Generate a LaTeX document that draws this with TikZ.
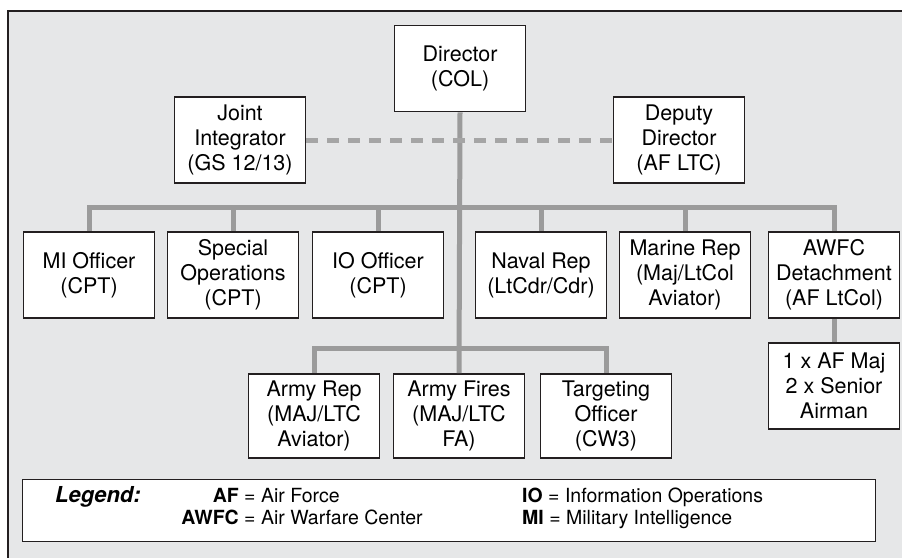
\documentclass[tikz,border=0pt]{standalone}
\usepackage{fontspec}
\setmainfont{TeX Gyre Heros}

\definecolor{Panel}{HTML}{E6E7E8}
\definecolor{Wire}{HTML}{9B9B9B}
\definecolor{Rim}{HTML}{231F20}
\tikzstyle{Unit} = [draw=Rim,
                    fill=white,
                    rectangle,
                    line width=1.6pt,
                    minimum width=131pt,
                    minimum height=86pt,
                    inner sep=0pt,
                    align=center,
                    font=\fontsize{21.5}{25}\selectfont]
\tikzstyle{Wires} = [draw=Wire, line width=5pt, line join=miter]
\tikzstyle{Liaison} = [draw=Wire!90, line width=5pt, dash pattern=on 12pt off 9pt]
\tikzstyle{Key} = [inner sep=0pt, font=\fontsize{19.5}{22}\selectfont]

\begin{document}
\begin{tikzpicture}[x=1pt, y=-1pt]

    \clip (0,0) rectangle (902,557);
    \draw [line width=2.2pt, draw=Rim, fill=Panel] (8,11) rectangle (930,590);

    % Headquarters nodes
    \node (dir) at (460,68.5) [Unit]{Director\\(COL)};
    \node (joint) at (240,140) [Unit]{Joint\\Integrator\\(GS 12/13)};
    \node (deputy) at (679,140) [Unit]{Deputy\\Director\\(AF LTC)};

    % First row
    \node (mi) at (89,275) [Unit]{MI Officer\\(CPT)};
    \node (specops) at (233,275) [Unit]{Special\\Operations\\(CPT)};
    \node (io) at (378,275) [Unit]{IO Officer\\(CPT)};
    \node (naval) at (541,275) [Unit]{Naval Rep\\(LtCdr/Cdr)};
    \node (marine) at (685,275) [Unit]{Marine Rep\\(Maj/LtCol\\Aviator)};
    \node (awfc) at (834,275) [Unit]{AWFC\\Detachment\\(AF LtCol)};
    \node (afmaj) at (834,386) [Unit]{1 x AF Maj\\2 x Senior\\Airman};

    % Army row
    \node (armyrep) at (314,416) [Unit, minimum height=84pt]{Army Rep\\(MAJ/LTC\\Aviator)};
    \node (fires) at (459,416) [Unit, minimum height=84pt]{Army Fires\\(MAJ/LTC\\FA)};
    \node (target) at (606,416) [Unit, minimum height=84pt]{Targeting\\Officer\\(CW3)};

    % Lines
    \coordinate (topbus) at (459,207);
    \coordinate (armybus) at (459,348);
    \draw [Wires] (dir.south) -- (fires.north);
    \draw [Wires] (mi.north) |- (topbus) -| (awfc.north);
    \foreach \unit in {specops, io, naval, marine}
        \draw [Wires] (\unit.north) -- (\unit.north |- topbus);
    \draw [Wires] (armyrep.north) |- (armybus) -| (target.north);
    \draw [Wires] (awfc.south) -- (afmaj.north);
    \draw [Liaison] (joint.east) -- (deputy.west);

    % Legend
    \node (legendbox) at (448.5,510) [draw=Rim, fill=white, line width=1pt, minimum width=853pt, minimum height=62pt]{};
    \node (legend) at (55,502) [Key, anchor=base west, font=\fontsize{22}{22}\selectfont\bfseries\itshape]{Legend:};
    \node (af) at (239,502) [Key, anchor=base east]{\textbf{AF}};
    \node (afdef) at (244,502) [Key, anchor=base west]{= Air Force};
    \node (awfckey) at (239,524) [Key, anchor=base east]{\textbf{AWFC}};
    \node (awfcdef) at (244,524) [Key, anchor=base west]{= Air Warfare Center};
    \node (iokey) at (522,502) [Key, anchor=base west]{\textbf{IO} = Information Operations};
    \node (mikey) at (522,524) [Key, anchor=base west]{\textbf{MI} = Military Intelligence};

\end{tikzpicture}
\end{document}
